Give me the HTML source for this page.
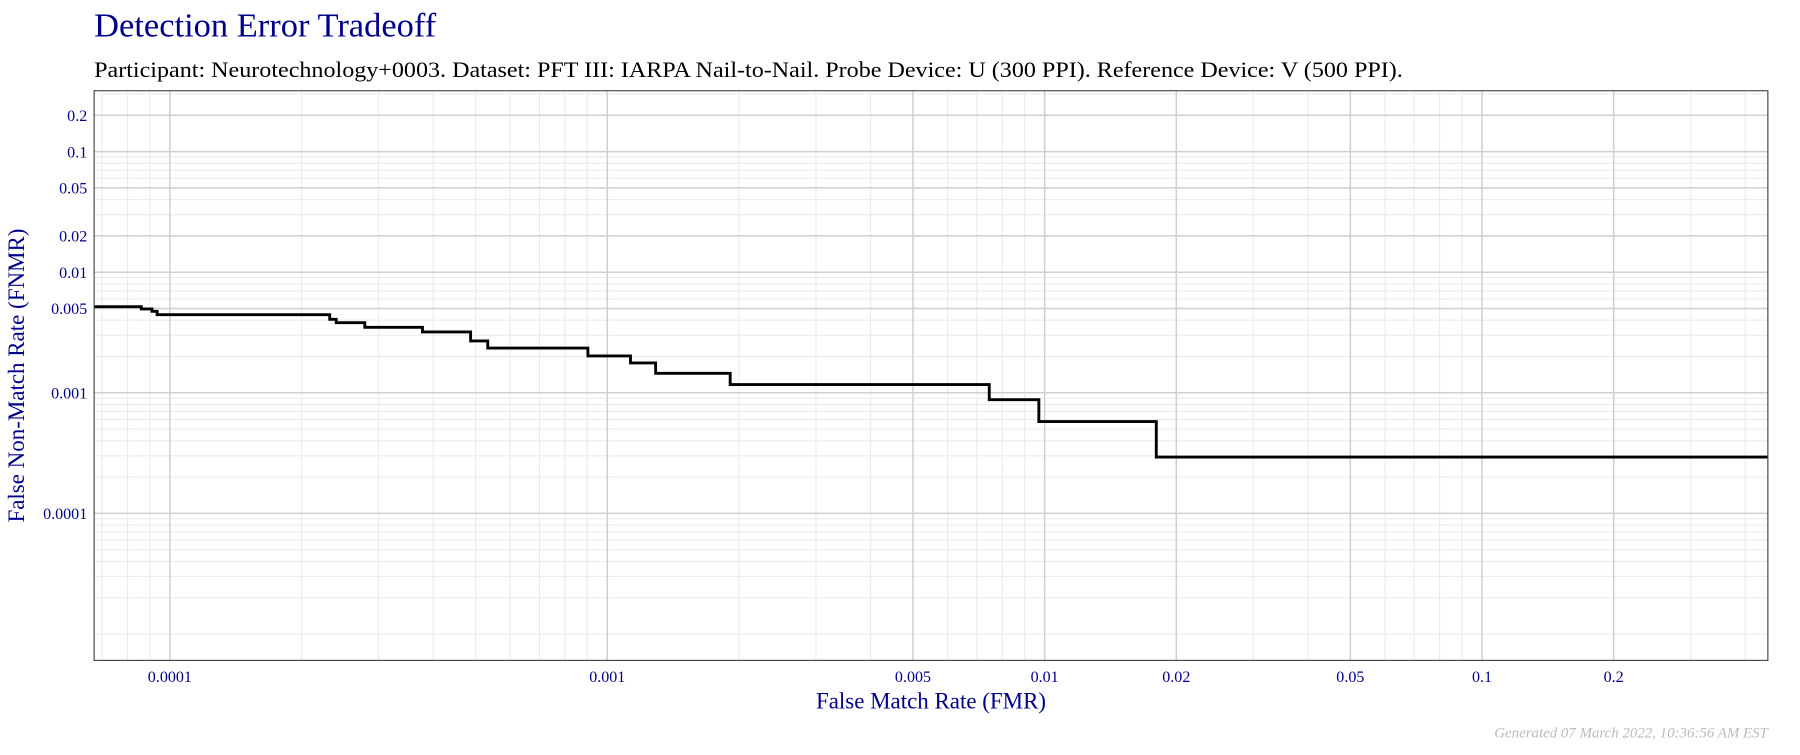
<!DOCTYPE html>
<html><head><meta charset="utf-8"><style>
body{margin:0;background:#fff;width:1800px;height:750px;overflow:hidden;font-family:"Liberation Serif",serif}
</style></head><body>
<svg width="1800" height="750" viewBox="0 0 1568 653" preserveAspectRatio="none" font-family="Liberation Serif, serif">
<text x="82" y="32" font-size="29" fill="#00008B" textLength="298" lengthAdjust="spacingAndGlyphs">Detection Error Tradeoff</text>
<text x="82" y="67" font-size="19" fill="#000" textLength="1140" lengthAdjust="spacingAndGlyphs">Participant: Neurotechnology+0003. Dataset: PFT III: IARPA Nail-to-Nail. Probe Device: U (300 PPI). Reference Device: V (500 PPI).</text>
<g id="grid"></g>
<g id="ticks"></g>
<path id="curve" fill="none" stroke="#000" stroke-width="2.5"/>
<rect x="82" y="79" width="1458" height="496" fill="none" stroke="#444" stroke-width="1"/>
<text x="811" y="617" font-size="20" fill="#00008B" text-anchor="middle">False Match Rate (FMR)</text>
<text transform="translate(21,327) rotate(-90)" font-size="20" fill="#00008B" text-anchor="middle">False Non-Match Rate (FNMR)</text>
<text x="1540" y="642" font-size="13" fill="#bbb" font-style="italic" text-anchor="end">Generated 07 March 2022, 10:36:56 AM EST</text>
</svg>
<script>
const fmrSteps=[6.7e-5,8.6e-5,9.1e-5,9.35e-5,2.32e-4,2.40e-4,2.79e-4,3.78e-4,4.87e-4,5.33e-4,9.03e-4,1.13e-3,1.29e-3,1.91e-3,7.47e-3,9.70e-3,1.80e-2];
const fnmrSteps=[5.18e-3,4.96e-3,4.74e-3,4.44e-3,4.07e-3,3.81e-3,3.49e-3,3.20e-3,2.69e-3,2.35e-3,2.02e-3,1.77e-3,1.45e-3,1.17e-3,8.77e-4,5.78e-4,2.93e-4];
const xTickVals=[0.0001,0.001,0.005,0.01,0.02,0.05,0.1,0.2];
const xTickLabels=["0.0001","0.001","0.005","0.01","0.02","0.05","0.1","0.2"];
const yTickVals=[0.2,0.1,0.05,0.02,0.01,0.005,0.001,0.0001];
const yTickLabels=["0.2","0.1","0.05","0.02","0.01","0.005","0.001","0.0001"];
const L=82,R=1540,T=79,B=575;
const X=v=>148+(Math.log10(v)+4)*381;
const Y=v=>342-(Math.log10(v)+3)*105;
const ns="http://www.w3.org/2000/svg";
const grid=document.getElementById('grid'),ticks=document.getElementById('ticks');
function line(x1,y1,x2,y2,c,w,name){const l=document.createElementNS(ns,'line');
l.setAttribute('x1',x1);l.setAttribute('y1',y1);l.setAttribute('x2',x2);l.setAttribute('y2',y2);
l.setAttribute('stroke',c);l.setAttribute('stroke-width',w);


grid.appendChild(l);}
for(let d=-5;d<=0;d++)for(let m=1;m<10;m++){const v=m*Math.pow(10,d);
const x=X(v);if(x>L&&x<R)line(x,T,x,B,'#ececec',1,'minor-gridline-x');
const y=Y(v);if(y>T&&y<B)line(L,y,R,y,'#ececec',1,'minor-gridline-y');}
xTickVals.forEach((v,i)=>{const x=X(v);line(x,T,x,B,'#cfcfcf',1.3,'major-gridline-x');
const t=document.createElementNS(ns,'text');t.setAttribute('x',x);t.setAttribute('y',594);t.setAttribute('font-size','14');t.setAttribute('fill','#00008B');t.setAttribute('text-anchor','middle');t.textContent=xTickLabels[i];


ticks.appendChild(t);});
yTickVals.forEach((v,i)=>{const y=Y(v);line(L,y,R,y,'#cfcfcf',1.3,'major-gridline-y');
const t=document.createElementNS(ns,'text');t.setAttribute('x',76);t.setAttribute('y',y+5);t.setAttribute('font-size','14');t.setAttribute('fill','#00008B');t.setAttribute('text-anchor','end');t.textContent=yTickLabels[i];


ticks.appendChild(t);});
let d='M'+L+','+Y(fnmrSteps[0]);
for(let i=1;i<fmrSteps.length;i++){d+=' H'+X(fmrSteps[i])+' V'+Y(fnmrSteps[i]);}
d+=' H'+R;
document.getElementById('curve').setAttribute('d',d);
</script>
</body></html>
